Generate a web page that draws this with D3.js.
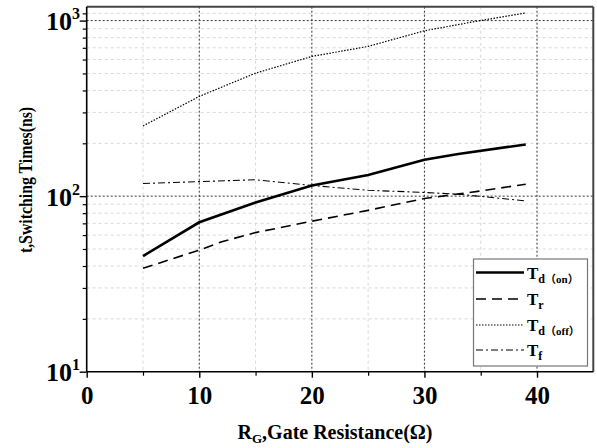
<!DOCTYPE html>
<html>
<head>
<meta charset="utf-8">
<script src="https://cdn.jsdelivr.net/npm/d3@7"></script>
<style>
  html, body { margin: 0; padding: 0; background: #fff; }
  text { font-family: "Liberation Serif", "Times New Roman", serif; font-weight: bold; fill: #000; }
  .cjk { font-family: "Noto Sans CJK SC", "Noto Sans CJK JP", sans-serif; }
</style>
</head>
<body>
<svg id="chart" width="597" height="448"></svg>
<script>
// ---- data ----
const xTicks = [0, 10, 20, 30, 40];
const yTicks = [10, 100, 1000];
const tdOnX  = [5, 10, 15, 20, 25, 30, 33, 39];
const tdOnY  = [45.6, 71, 92, 115, 132, 161, 174, 197];
const trX    = [5, 10, 12, 15, 20, 25, 30, 35, 39];
const trY    = [38.8, 49.3, 55, 62, 72, 83, 97, 107, 117];
const tdOffX = [5, 10, 15, 20, 25, 30, 35, 39];
const tdOffY = [251, 370, 502, 625, 713, 875, 1002, 1105];
const tfX    = [5, 10, 15, 20, 25, 30, 33, 39];
const tfY    = [118, 121, 124, 115, 108, 105, 102.6, 94];
const seriesNames = [["T", "d", "on"], ["T", "r", ""], ["T", "d", "off"], ["T", "f", ""]];

const svg = d3.select("#chart");
const L = 86.7, R = 593.3, T = 6.7, B = 371.7;
const x = d3.scaleLinear().domain([0, 45]).range([L, R]);
const y = d3.scaleLog().domain([10, 1200]).range([B, T]);

// minor grid
const minorX = [5, 15, 25, 35];
const minorY = [];
[10, 100].forEach(d => { for (let k = 2; k <= 9; k++) minorY.push(d * k); });
minorY.push(1100);
const g = svg.append("g");
g.selectAll(".mgx").data(minorX).enter().append("line")
  .attr("x1", d => x(d)).attr("x2", d => x(d)).attr("y1", T).attr("y2", B)
  .attr("stroke", "#d8d8d8").attr("stroke-width", 1).attr("stroke-dasharray", "3,3");
g.selectAll(".mgy").data(minorY).enter().append("line")
  .attr("x1", L).attr("x2", R).attr("y1", d => y(d)).attr("y2", d => y(d))
  .attr("stroke", "#d8d8d8").attr("stroke-width", 1).attr("stroke-dasharray", "3,3");
// major grid
g.selectAll(".gx").data(xTicks.slice(1)).enter().append("line")
  .attr("x1", d => x(d)).attr("x2", d => x(d)).attr("y1", T).attr("y2", B)
  .attr("stroke", "#333").attr("stroke-width", 1).attr("stroke-dasharray", "2,2");
g.selectAll(".gy").data([100, 1000]).enter().append("line")
  .attr("x1", L).attr("x2", R).attr("y1", d => y(d)).attr("y2", d => y(d))
  .attr("stroke", "#333").attr("stroke-width", 1).attr("stroke-dasharray", "2,2");

// lines
const line = d3.line().x(d => x(d[0])).y(d => y(d[1]));
const zip = (a, b) => a.map((v, i) => [v, b[i]]);
const styles = [
  { data: zip(tdOnX, tdOnY), w: 2.6, dash: null },
  { data: zip(trX, trY), w: 1.6, dash: "10,6" },
  { data: zip(tdOffX, tdOffY), w: 1.2, dash: "1.5,1.5" },
  { data: zip(tfX, tfY), w: 1.1, dash: "7,3,2,3" }
];
styles.forEach(s => {
  svg.append("path").attr("d", line(s.data)).attr("fill", "none")
    .attr("stroke", "#000").attr("stroke-width", s.w)
    .attr("stroke-dasharray", s.dash);
});

// frame
svg.append("line").attr("x1", L).attr("x2", R).attr("y1", T).attr("y2", T).attr("stroke", "#444").attr("stroke-width", 2);
svg.append("line").attr("x1", R).attr("x2", R).attr("y1", T).attr("y2", B).attr("stroke", "#444").attr("stroke-width", 2);

// x axis
const xAxis = d3.axisBottom(x).tickValues(xTicks).tickSize(6).tickFormat(d3.format("d"));
const xg = svg.append("g").attr("transform", `translate(0,${B})`).call(xAxis);
xg.select(".domain").attr("stroke", "#000").attr("stroke-width", 1.6).attr("d", `M${L},0H${R}`);
xg.selectAll(".tick line").attr("stroke-width", 1.4);
xg.selectAll(".tick text").attr("font-size", 25).attr("font-family", "Liberation Serif").attr("font-weight", "bold").attr("dy", "0").attr("y", 32.5);
const xMinor = d3.axisBottom(x).tickValues(minorX).tickSize(4).tickFormat("");
const xmg = svg.append("g").attr("transform", `translate(0,${B})`).call(xMinor);
xmg.select(".domain").remove();
xmg.selectAll(".tick line").attr("stroke-width", 1.2);

// y axis
const yAxis = d3.axisLeft(y).tickValues(yTicks).tickSize(7).tickFormat("");
const yg = svg.append("g").attr("transform", `translate(${L},0)`).call(yAxis);
yg.select(".domain").attr("stroke", "#000").attr("stroke-width", 1.6).attr("d", `M0,${T}V${B}`);
yg.selectAll(".tick line").attr("stroke-width", 1.4);
const yMinor = d3.axisLeft(y).tickValues(minorY).tickSize(4).tickFormat("");
const ymg = svg.append("g").attr("transform", `translate(${L},0)`).call(yMinor);
ymg.select(".domain").remove();
ymg.selectAll(".tick line").attr("stroke-width", 1.2);

// y tick labels 10^n
yTicks.forEach(v => {
  const t = svg.append("text").attr("x", 80).attr("y", y(v) + 9.5)
    .attr("text-anchor", "end").attr("font-size", 26);
  t.append("tspan").text("10");
  t.append("tspan").text(String(Math.round(Math.log10(v)))).attr("font-size", 16).attr("dy", -11);
});

// axis titles
svg.append("text").attr("transform", `translate(32,180) rotate(-90) scale(0.88,1)`)
  .attr("text-anchor", "middle").attr("font-size", 18).text("t,Switching Times(ns)");
const xt = svg.append("text").attr("x", 335).attr("y", 439)
  .attr("text-anchor", "middle").attr("font-size", 20);
xt.append("tspan").text("R");
xt.append("tspan").text("G").attr("font-size", 13).attr("dy", 4);
xt.append("tspan").text(",Gate Resistance(Ω)").attr("dy", -4);

// legend
const lx = 473.5, ly = 259, lw = 114, lh = 107;
svg.append("rect").attr("x", lx).attr("y", ly).attr("width", lw).attr("height", lh)
  .attr("fill", "#fff").attr("stroke", "#777").attr("stroke-width", 1.2);
const rowY = [272.5, 299, 325, 350];
styles.forEach((s, i) => {
  svg.append("line").attr("x1", 476).attr("x2", 524).attr("y1", rowY[i]).attr("y2", rowY[i])
    .attr("stroke", "#000").attr("stroke-width", s.w).attr("stroke-dasharray", s.dash);
  const t = svg.append("text").attr("x", 527).attr("y", rowY[i] + 6).attr("font-size", 17);
  const nm = seriesNames[i];
  t.append("tspan").text(nm[0]);
  t.append("tspan").text(nm[1]).attr("font-size", 12).attr("dy", 4);
  if (nm[2]) {
    t.append("tspan").attr("class", "cjk").attr("font-size", 11).text("（");
    t.append("tspan").attr("font-size", 11).text(nm[2]);
    t.append("tspan").attr("class", "cjk").attr("font-size", 11).text("）");
  }
});
</script>
</body>
</html>
